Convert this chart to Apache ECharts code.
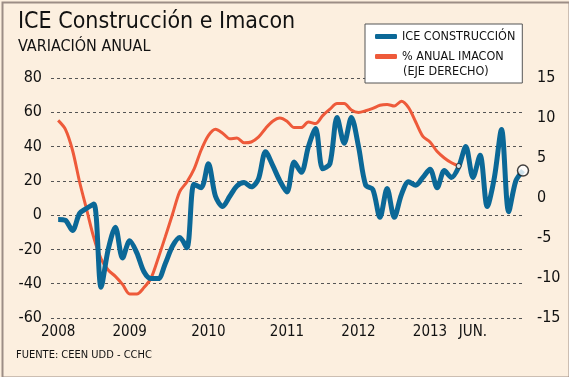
<!DOCTYPE html>
<html>
<head>
<meta charset="utf-8">
<script src="https://cdn.jsdelivr.net/npm/echarts@6/dist/echarts.min.js"></script>
<style>
  html, body { margin: 0; padding: 0; background: #fcefdf; }
  #chart { width: 569px; height: 377px; }
</style>
</head>
<body>
<div id="chart"></div>
<script>
// meses desde ene-2008 hasta jun-2013 (66 puntos)
var xTickLabels = {0: '2008', 10: '2009', 21: '2010', 32: '2011', 42: '2012', 52: '2013', 58: 'JUN.'};
var leftTicks = { min: -60, max: 80, interval: 20 };
var rightTicks = { min: -15, max: 15, interval: 5 };

// ICE construccion, variacion anual (%), eje izquierdo
var iceValues = [
  -2.5, -3, -9, 1, 4, 6.5, -42, -20, -7, -25,
  -15, -22, -33, -37, -37, -28, -18, -13, -19, 18,
  16, 30, 11, 5, 11, 17, 19, 16.5, 21, 37,
  29, 20, 13.5, 31, 25, 40, 50.5, 27, 30, 57,
  42, 57, 40, 17.5, 15, -1.3, 15.5, -1.3, 12, 19.5,
  17.5, 22, 26.7, 16, 26, 22, 28, 40, 22, 35,
  5, 22, 50, 2, 20, 26
];

// % anual IMACON, eje derecho (termina antes)
var imaconValues = [
  9.7, 8.6, 6, 2, -1.5, -5, -7.6, -9, -9.8, -10.8,
  -12, -12, -11.2, -10, -7.5, -4.8, -2, 0.8, 2, 3.6,
  6, 7.8, 8.6, 8.1, 7.4, 7.5, 6.9, 7, 7.6, 8.7,
  9.6, 10, 9.6, 8.8, 8.8, 9.5, 9.3, 10.3, 11.1, 11.8,
  11.8, 11, 10.7, 10.9, 11.2, 11.6, 11.7, 11.5, 12.1, 11.3,
  9.5, 7.7, 7, 5.8, 5, 4.4, 4.0
];

var BLUE = '#0b6897';
var RED = '#ee5a3a';
var FONT = '"DejaVu Sans Condensed", "Liberation Sans Narrow", "DejaVu Sans", sans-serif';

function pairs(arr) {
  return arr.map(function (v, i) { return [i, v]; });
}

var chart = echarts.init(document.getElementById('chart'), null, { renderer: 'canvas' });

chart.setOption({
  backgroundColor: '#fcefdf',
  textStyle: { fontFamily: FONT },
  animation: false,
  title: {
    text: 'ICE Construcción e Imacon',
    subtext: 'VARIACIÓN ANUAL',
    left: 13,
    top: 6,
    itemGap: 5,
    textStyle: { fontFamily: FONT, fontSize: 23, fontWeight: 'normal', color: '#111' },
    subtextStyle: { fontFamily: FONT, fontSize: 16, color: '#111' }
  },
  legend: {
    orient: 'vertical',
    left: 365,
    top: 24,
    padding: [6, 7, 20, 10],
    itemGap: 7,
    itemWidth: 22,
    itemHeight: 5,
    icon: 'roundRect',
    backgroundColor: '#fff',
    borderColor: '#555',
    borderWidth: 1,
    borderRadius: 0,
    textStyle: { fontFamily: FONT, fontSize: 12.5, color: '#111' },
    data: [
      { name: 'ICE CONSTRUCCIÓN', itemStyle: { color: BLUE } },
      { name: '% ANUAL IMACON', itemStyle: { color: RED } }
    ]
  },
  graphic: [
    {
      type: 'text', left: 403, top: 65, z: 50,
      style: { text: '(EJE DERECHO)', font: '12.5px ' + FONT, fill: '#111' }
    },
    {
      type: 'text', left: 16, top: 350,
      style: { text: 'FUENTE: CEEN UDD - CCHC', font: '11px ' + FONT, fill: '#111' }
    },
    {
      type: 'rect', left: 0, top: 0, z: 100, silent: true,
      shape: { x: 1, y: 1, width: 567, height: 375 },
      style: { fill: 'none', stroke: '#9c8d85', lineWidth: 2 }
    }
  ],
  grid: { left: 51, right: 46, top: 78, bottom: 59 },
  xAxis: {
    type: 'value',
    min: -1,
    max: 65,
    interval: 1,
    axisLine: { show: false },
    axisTick: { show: false },
    splitLine: { show: false },
    axisLabel: {
      margin: 7,
      fontSize: 15,
      color: '#111',
      showMinLabel: true,
      showMaxLabel: true,
      formatter: function (v) { return xTickLabels[v] || ''; }
    }
  },
  yAxis: [
    {
      type: 'value',
      min: leftTicks.min,
      max: leftTicks.max,
      interval: leftTicks.interval,
      axisLine: { show: false },
      axisTick: { show: false },
      axisLabel: { margin: 9, fontSize: 16, color: '#111' },
      splitLine: { lineStyle: { color: '#555', type: [3, 3], width: 1 } }
    },
    {
      type: 'value',
      min: rightTicks.min,
      max: rightTicks.max,
      interval: rightTicks.interval,
      axisLine: { show: false },
      axisTick: { show: false },
      axisLabel: { margin: 14, fontSize: 16, color: '#111' },
      splitLine: { show: false }
    }
  ],
  series: [
    {
      name: '% ANUAL IMACON',
      type: 'line',
      yAxisIndex: 1,
      data: pairs(imaconValues),
      smooth: 0.3,
      showSymbol: false,
      symbol: 'none',
      lineStyle: { color: RED, width: 3 },
      itemStyle: { color: RED },
      z: 2
    },
    {
      name: 'ICE CONSTRUCCIÓN',
      type: 'line',
      yAxisIndex: 0,
      data: pairs(iceValues),
      smooth: 0.3,
      showSymbol: false,
      symbol: 'none',
      lineStyle: { color: BLUE, width: 5 },
      itemStyle: { color: BLUE },
      z: 3
    },
    {
      name: 'fin ICE',
      type: 'scatter',
      yAxisIndex: 0,
      data: [[iceValues.length - 1, iceValues[iceValues.length - 1]]],
      symbolSize: 11,
      itemStyle: { color: '#fff', borderColor: '#111', borderWidth: 1.5 },
      z: 5
    },
    {
      name: 'fin IMACON',
      type: 'scatter',
      yAxisIndex: 1,
      data: [[imaconValues.length - 1, imaconValues[imaconValues.length - 1]]],
      symbolSize: 5,
      itemStyle: { color: '#fff', borderColor: '#111', borderWidth: 1 },
      z: 5
    }
  ]
});
</script>
</body>
</html>
